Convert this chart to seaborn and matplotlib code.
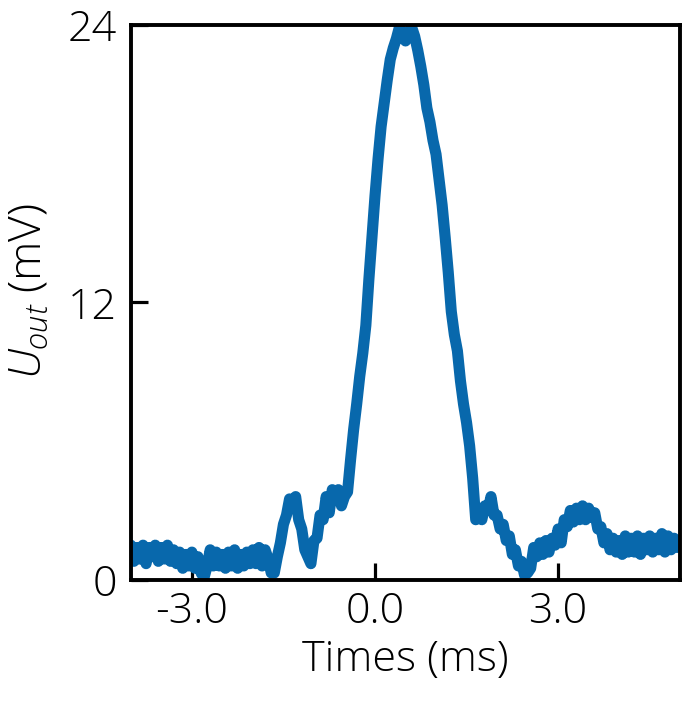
import matplotlib
matplotlib.use("Agg")
import matplotlib.pyplot as plt
import seaborn as sns
import numpy as np
import pandas as pd
from matplotlib.ticker import FixedLocator

# ---- data ----
time_ms = [
    -4.00, -3.95, -3.90, -3.85, -3.80, -3.75, -3.70, -3.65, -3.60, -3.55,
    -3.50, -3.45, -3.40, -3.35, -3.30, -3.25, -3.20, -3.15, -3.10, -3.05,
    -3.00, -2.95, -2.90, -2.85, -2.80, -2.75, -2.70, -2.65, -2.60, -2.55,
    -2.50, -2.45, -2.40, -2.35, -2.30, -2.25, -2.20, -2.15, -2.10, -2.05,
    -2.00, -1.95, -1.90, -1.85, -1.80, -1.75, -1.70, -1.65, -1.60, -1.55,
    -1.50, -1.45, -1.40, -1.35, -1.30, -1.25, -1.20, -1.15, -1.10, -1.05,
    -1.00, -0.95, -0.90, -0.85, -0.80, -0.75, -0.70, -0.65, -0.60, -0.55,
    -0.50, -0.45, -0.40, -0.35, -0.30, -0.25, -0.20, -0.15, -0.10, -0.05,
    0.00, 0.05, 0.10, 0.15, 0.20, 0.25, 0.30, 0.35, 0.40, 0.45,
    0.50, 0.55, 0.60, 0.65, 0.70, 0.75, 0.80, 0.85, 0.90, 0.95,
    1.00, 1.05, 1.10, 1.15, 1.20, 1.25, 1.30, 1.35, 1.40, 1.45,
    1.50, 1.55, 1.60, 1.65, 1.70, 1.75, 1.80, 1.85, 1.90, 1.95,
    2.00, 2.05, 2.10, 2.15, 2.20, 2.25, 2.30, 2.35, 2.40, 2.45,
    2.50, 2.55, 2.60, 2.65, 2.70, 2.75, 2.80, 2.85, 2.90, 2.95,
    3.00, 3.05, 3.10, 3.15, 3.20, 3.25, 3.30, 3.35, 3.40, 3.45,
    3.50, 3.55, 3.60, 3.65, 3.70, 3.75, 3.80, 3.85, 3.90, 3.95,
    4.00, 4.05, 4.10, 4.15, 4.20, 4.25, 4.30, 4.35, 4.40, 4.45,
    4.50, 4.55, 4.60, 4.65, 4.70, 4.75, 4.80, 4.85, 4.90, 4.95,
    5.00,
]
u_out_mv = [
    1.5, 0.8, 1.4, 0.9, 1.5, 0.7, 1.4, 1.0, 1.5, 0.8,
    1.4, 0.9, 1.5, 0.8, 1.3, 0.7, 1.2, 0.5, 1.1, 0.6,
    1.2, 0.5, 1.0, 0.3, 0.1, 0.6, 1.3, 0.6, 1.2, 0.6,
    1.1, 0.5, 1.2, 0.6, 1.3, 0.5, 1.1, 0.6, 1.2, 0.7,
    1.3, 0.7, 1.4, 0.6, 1.3, 0.9, 0.3, 0.3, 1.0, 1.6,
    2.4, 2.8, 3.5, 3.2, 3.6, 2.6, 2.2, 1.3, 1.0, 0.7,
    1.7, 1.8, 2.8, 2.6, 3.6, 2.9, 3.9, 3.7, 3.9, 3.2,
    3.6, 3.8, 5.2, 6.5, 7.6, 8.8, 9.8, 11.0, 13.0, 14.8,
    16.6, 18.2, 19.6, 20.6, 21.6, 22.5, 23.0, 23.4, 23.9, 23.6,
    23.3, 23.6, 23.9, 23.5, 22.9, 22.2, 21.4, 20.4, 19.8, 19.0,
    18.4, 17.3, 16.2, 14.8, 13.3, 11.6, 10.6, 9.9, 8.6, 7.6,
    6.8, 5.8, 4.4, 2.6, 2.9, 2.6, 3.2, 3.0, 3.6, 2.8,
    2.8, 2.2, 2.4, 1.7, 1.9, 1.1, 1.3, 0.6, 0.8, 0.2,
    0.3, 0.5, 1.4, 1.0, 1.6, 1.1, 1.7, 1.2, 1.8, 1.5,
    2.2, 1.6, 2.6, 2.3, 3.0, 2.5, 3.1, 2.6, 3.2, 2.6,
    3.1, 2.7, 2.9, 2.2, 2.3, 1.6, 2.0, 1.3, 1.8, 1.2,
    1.7, 1.1, 1.9, 1.2, 1.8, 1.2, 1.9, 1.1, 1.8, 1.3,
    1.9, 1.2, 1.8, 1.3, 2.0, 1.2, 1.9, 1.3, 1.8, 1.4,
    1.7,
]
x_major = [-3.0, 0.0, 3.0]
x_major_labels = ["-3.0", "0.0", "3.0"]
x_minor = [-1.5, 1.5, 4.5]
y_major = [0, 12, 24]
y_major_labels = ["0", "12", "24"]
y_minor = [6, 18]

assert len(time_ms) == len(u_out_mv)
df = pd.DataFrame({"t": time_ms, "u": u_out_mv})

sns.set_theme(style="white")
plt.rcParams["font.family"] = ["Open Sans", "DejaVu Sans"]
plt.rcParams["font.weight"] = "light"
plt.rcParams["mathtext.fontset"] = "custom"
plt.rcParams["mathtext.rm"] = "Open Sans:light"
plt.rcParams["mathtext.it"] = "Open Sans:italic:light"

fig = plt.figure(figsize=(6.85, 7.08), dpi=100)
ax = fig.add_axes([0.191, 0.181, 0.802, 0.784])

sns.lineplot(data=df, x="t", y="u", ax=ax, color="#0868ac", linewidth=8,
             estimator=None, sort=False)

ax.set_xlim(-4.0, 5.0)
ax.set_ylim(0, 24)

ax.xaxis.set_major_locator(FixedLocator(x_major))
ax.set_xticklabels(x_major_labels)
ax.xaxis.set_minor_locator(FixedLocator(x_minor))
ax.yaxis.set_major_locator(FixedLocator(y_major))
ax.set_yticklabels(y_major_labels)
ax.yaxis.set_minor_locator(FixedLocator(y_minor))

ax.tick_params(axis="both", which="major", direction="in", length=12, width=2.3,
               color="black", labelsize=31, labelcolor="black")
ax.tick_params(axis="both", which="minor", direction="in", length=7.5, width=2.3,
               color="black")
ax.tick_params(bottom=True, left=True, top=False, right=False)
ax.tick_params(axis="y", which="major", pad=10)
ax.tick_params(axis="x", which="major", pad=8)

for s in ax.spines.values():
    s.set_visible(True)
    s.set_color("black")
    s.set_linewidth(2.8)

ax.set_xlabel("Times (ms)", fontsize=31, color="black", fontweight="light")
ax.set_ylabel(r"$U_{out}$ (mV)", fontsize=32, color="black", fontweight="light")
ax.xaxis.set_label_coords(0.5, -0.105)
ax.yaxis.set_label_coords(-0.142, 0.52)

fig.savefig("out.png", dpi=100)
